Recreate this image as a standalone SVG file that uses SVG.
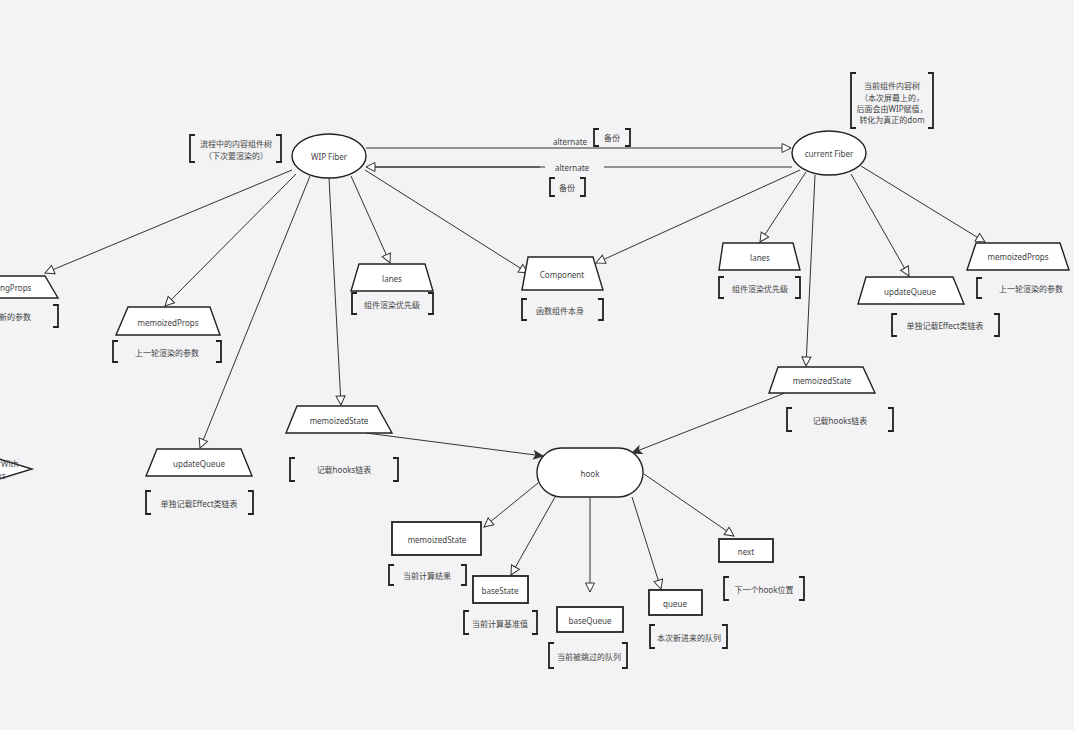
<svg xmlns="http://www.w3.org/2000/svg" width="1074" height="730" viewBox="0 0 1074 730">
<style>
text{font-family:"Noto Sans","Noto Sans CJK SC",sans-serif;font-size:8px;fill:#444;text-anchor:middle;dominant-baseline:central}
.shape{fill:#fff;stroke:#222;stroke-width:1.4}
.box{fill:#fff;stroke:#222;stroke-width:1.8}
.br{fill:none;stroke:#222;stroke-width:1.8}
.edge{fill:none;stroke:#333;stroke-width:1}
.open{marker-end:url(#open)}
.solid{marker-end:url(#solid)}
</style>
<defs>
<marker id="open" markerUnits="userSpaceOnUse" markerWidth="12" markerHeight="12" viewBox="0 0 12 12" refX="10" refY="6" orient="auto">
<path d="M1 1.5 L10 6 L1 10.5 Z" fill="#fff" stroke="#333" stroke-width="1"/>
</marker>
<marker id="solid" markerUnits="userSpaceOnUse" markerWidth="12" markerHeight="12" viewBox="0 0 12 12" refX="10" refY="6" orient="auto">
<path d="M1 2 L10 6 L1 10 L3 6 Z" fill="#333" stroke="#333" stroke-width="1"/>
</marker>
</defs>
<rect width="1074" height="730" fill="#f3f3f5"/>

<g id="connectors">
<path class="edge open" d="M366 148 H791"/>
<path class="edge" d="M792 167 H604 M540 167 H372"/>
<path class="edge open" d="M545 167 H366"/>
<path class="edge open" d="M292 170 L45 273"/>
<path class="edge open" d="M296 174 L165 306"/>
<path class="edge open" d="M351 176 L390 263"/>
<path class="edge open" d="M365 170 L528 273"/>
<path class="edge open" d="M800 170 L596 263"/>
<path class="edge open" d="M329 178 L341 405"/>
<path class="edge open" d="M310 176 L200 448"/>
<path class="edge open" d="M806 172 L760 242"/>
<path class="edge open" d="M851 174 L909 276"/>
<path class="edge open" d="M861 166 L985 242"/>
<path class="edge open" d="M815 175 L806 366"/>
<path class="edge solid" d="M366 433 L543 456"/>
<path class="edge solid" d="M785 393 L632 453"/>
<path class="edge open" d="M538 483 L484 527"/>
<path class="edge open" d="M555 497 L511 575"/>
<path class="edge open" d="M590 498 L590 592"/>
<path class="edge open" d="M632 497 L661 589"/>
<path class="edge open" d="M644 474 L734 536"/>
<text x="570" y="141">alternate</text>
<text x="572" y="167">alternate</text>
</g>

<g id="wip-fiber">
<ellipse class="shape" cx="329" cy="156" rx="37" ry="22"/>
<text x="329" y="156">WIP Fiber</text>
</g>
<g id="wip-note">
<path class="br" d="M195 135 H190 V162 H195 M276 135 H281 V162 H276"/>
<text x="236" y="143">流程中的内容组件树</text>
<text x="236" y="155">（下次要渲染的）</text>
</g>

<g id="current-fiber">
<ellipse class="shape" cx="829" cy="153" rx="37" ry="22"/>
<text x="829" y="153">current Fiber</text>
</g>
<g id="current-note">
<path class="br" d="M856 73 H851 V128 H856 M928 73 H933 V128 H928"/>
<text x="892" y="85">当前组件内容树</text>
<text x="892" y="97">（本次屏幕上的，</text>
<text x="892" y="108">后面会由WIP赋值，</text>
<text x="892" y="119">转化为真正的dom</text>
</g>

<g id="backup-top">
<path class="br" d="M599 129 H594 V146 H599 M625 129 H630 V146 H625"/>
<text x="612" y="137">备份</text>
</g>
<g id="backup-bottom">
<path class="br" d="M555 178 H550 V196 H555 M580 178 H585 V196 H580"/>
<text x="567" y="187">备份</text>
</g>

<g id="pendingProps">
<path class="shape" d="M-12 276 H45 L58 298 H-24 Z"/>
<text x="5" y="287">pendingProps</text>
<path class="br" d="M53 305 H58 V327 H53"/>
<text x="11" y="316">最新的参数</text>
</g>

<g id="memoizedProps-wip">
<path class="shape" d="M128 307 H210 L220 335 H116 Z"/>
<text x="168" y="322">memoizedProps</text>
<path class="br" d="M118 341 H113 V362 H118 M216 341 H221 V362 H216"/>
<text x="167" y="352">上一轮渲染的参数</text>
</g>

<g id="lanes-wip">
<path class="shape" d="M359 264 H425 L433 291 H351 Z"/>
<text x="392" y="278">lanes</text>
<path class="br" d="M357 293 H352 V314 H357 M428 293 H433 V314 H428"/>
<text x="392" y="304">组件渲染优先级</text>
</g>

<g id="component">
<path class="shape" d="M528 257 H593 L603 290 H522 Z"/>
<text x="562" y="274">Component</text>
<path class="br" d="M527 299 H522 V320 H527 M598 299 H603 V320 H598"/>
<text x="560" y="310">函数组件本身</text>
</g>

<g id="memoizedState-wip">
<path class="shape" d="M297 406 H377 L392 433 H286 Z"/>
<text x="339" y="420">memoizedState</text>
<path class="br" d="M295 458 H290 V481 H295 M393 458 H398 V481 H393"/>
<text x="344" y="469">记载hooks链表</text>
</g>

<g id="updateQueue-wip">
<path class="shape" d="M157 449 H241 L252 476 H146 Z"/>
<text x="199" y="463">updateQueue</text>
<path class="br" d="M151 491 H146 V514 H151 M248 491 H253 V514 H248"/>
<text x="199" y="503">单独记载Effect类链表</text>
</g>

<g id="renderWithHooks">
<path class="shape" d="M-40 447 L32 469 L-40 491 L-112 469 Z"/>
<text x="-3" y="463">renderWith</text>
<text x="-6" y="475">Hooks</text>
</g>

<g id="lanes-current">
<path class="shape" d="M723 243 H793 L800 270 H719 Z"/>
<text x="760" y="257">lanes</text>
<path class="br" d="M724 277 H719 V298 H724 M795 277 H800 V298 H795"/>
<text x="760" y="288">组件渲染优先级</text>
</g>

<g id="updateQueue-current">
<path class="shape" d="M866 277 H953 L964 304 H858 Z"/>
<text x="910" y="291">updateQueue</text>
<path class="br" d="M897 314 H892 V336 H897 M994 314 H999 V336 H994"/>
<text x="945" y="325">单独记载Effect类链表</text>
</g>

<g id="memoizedProps-current">
<path class="shape" d="M976 243 H1060 L1069 270 H967 Z"/>
<text x="1018" y="256">memoizedProps</text>
<path class="br" d="M982 278 H977 V298 H982 M1078 278 H1083 V298 H1078"/>
<text x="1031" y="288">上一轮渲染的参数</text>
</g>

<g id="memoizedState-current">
<path class="shape" d="M778 367 H863 L875 393 H769 Z"/>
<text x="822" y="380">memoizedState</text>
<path class="br" d="M792 408 H787 V431 H792 M888 408 H893 V431 H888"/>
<text x="840" y="420">记载hooks链表</text>
</g>

<g id="hook">
<rect class="shape" x="537" y="448" width="106" height="49" rx="24.5"/>
<text x="590" y="473">hook</text>
</g>

<g id="hook-memoizedState">
<rect class="box" x="392" y="522" width="89" height="33"/>
<text x="437" y="539">memoizedState</text>
<path class="br" d="M394 565 H389 V585 H394 M461 565 H466 V585 H461"/>
<text x="427" y="575">当前计算结果</text>
</g>

<g id="hook-baseState">
<rect class="box" x="473" y="576" width="55" height="27"/>
<text x="500" y="590">baseState</text>
<path class="br" d="M469 611 H464 V634 H469 M532 611 H537 V634 H532"/>
<text x="500" y="623">当前计算基准值</text>
</g>

<g id="hook-baseQueue">
<rect class="box" x="557" y="607" width="66" height="25"/>
<text x="590" y="620">baseQueue</text>
<path class="br" d="M554 643 H549 V668 H554 M622 643 H627 V668 H622"/>
<text x="589" y="656">当前被跳过的队列</text>
</g>

<g id="hook-queue">
<rect class="box" x="649" y="590" width="53" height="25"/>
<text x="675" y="603">queue</text>
<path class="br" d="M655 625 H650 V648 H655 M722 625 H727 V648 H722"/>
<text x="689" y="637">本次新进来的队列</text>
</g>

<g id="hook-next">
<rect class="box" x="719" y="539" width="54" height="23"/>
<text x="746" y="551">next</text>
<path class="br" d="M729 577 H724 V600 H729 M799 577 H804 V600 H799"/>
<text x="764" y="589">下一个hook位置</text>
</g>
</svg>
